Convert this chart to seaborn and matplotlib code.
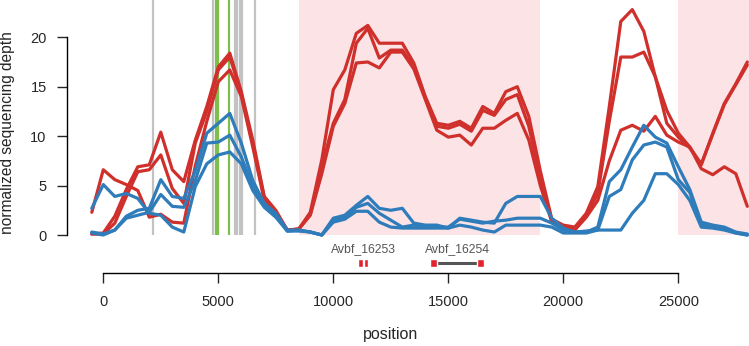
import matplotlib
matplotlib.use("Agg")
import matplotlib.pyplot as plt
import numpy as np
import pandas as pd
import seaborn as sns

# positions of the coverage windows (bp)
positions = list(range(-500, 28001, 500))

red_1 = [2.3, 6.6, 5.6, 5.1, 4.5, 1.8, 2.1, 1.3, 1.2, 7.0, 11.5, 15.5, 16.7, 14.0, 8.9, 3.5, 2.0, 0.5, 0.6,
         2.0, 6.2, 11.0, 13.3, 17.4, 17.5, 16.9, 18.5, 18.5, 16.8, 13.7, 10.6, 9.9, 10.1, 9.1, 10.8, 10.8,
         11.6, 12.3, 9.6, 5.0, 1.3, 0.7, 0.5, 1.8, 3.5, 7.5, 10.6, 11.1, 10.5, 12.0, 10.1, 9.4, 8.9, 6.7,
         6.1, 6.9, 6.2, 2.9]
red_2 = [0.1, 0.2, 1.9, 4.6, 6.9, 7.1, 10.4, 6.6, 5.4, 9.6, 13.0, 17.0, 18.4, 14.5, 9.6, 3.9, 2.5, 0.5, 0.6,
         2.3, 7.6, 14.7, 16.7, 20.4, 21.2, 19.4, 19.4, 19.4, 17.4, 14.0, 11.3, 11.1, 11.5, 10.8, 13.0, 12.3,
         14.5, 15.0, 12.0, 6.5, 1.6, 1.0, 0.8, 2.2, 4.9, 13.0, 21.6, 22.8, 20.6, 16.0, 12.6, 10.3, 8.9, 7.1,
         10.3, 13.3, 15.3, 17.5]
red_3 = [0.1, 0.1, 1.2, 3.9, 6.4, 6.6, 8.1, 4.7, 3.2, 9.3, 12.5, 16.7, 18.0, 14.3, 9.2, 3.7, 2.2, 0.5, 0.6,
         2.1, 6.9, 11.3, 13.7, 19.4, 20.9, 17.9, 18.7, 18.7, 17.0, 13.9, 11.0, 10.8, 11.2, 10.5, 12.6, 12.1,
         13.7, 14.2, 11.0, 5.8, 1.5, 0.8, 0.6, 2.0, 4.2, 11.5, 18.0, 18.0, 18.5, 16.0, 11.3, 9.9, 8.8, 7.2,
         10.2, 13.2, 15.2, 17.2]
blue_1 = [2.7, 5.1, 3.9, 4.2, 3.7, 2.2, 2.0, 0.8, 0.3, 4.9, 7.2, 8.1, 8.4, 7.2, 4.5, 2.8, 1.8, 0.4, 0.4,
          0.3, 0.0, 1.3, 1.6, 2.4, 2.4, 1.3, 0.8, 0.7, 0.7, 0.7, 0.7, 0.7, 1.0, 0.8, 0.5, 0.3,
          1.0, 1.0, 1.0, 1.0, 0.8, 0.2, 0.2, 0.2, 0.5, 0.5, 0.5, 2.2, 3.5, 6.2, 6.2, 5.1, 3.5, 0.8,
          0.7, 0.5, 0.2, 0.0]
blue_2 = [0.2, 0.0, 0.5, 1.9, 2.5, 2.7, 5.6, 3.9, 3.7, 6.5, 10.3, 11.3, 12.3, 9.3, 5.5, 3.2, 2.2, 0.5, 0.5,
          0.3, 0.0, 1.7, 2.0, 3.0, 3.9, 2.7, 2.5, 2.7, 1.2, 1.0, 1.0, 0.7, 1.7, 1.5, 1.3, 1.2,
          3.2, 3.9, 3.9, 3.9, 1.7, 0.7, 0.3, 0.3, 0.8, 5.4, 6.6, 8.9, 11.1, 9.9, 9.3, 6.9, 4.6, 1.3,
          1.0, 0.8, 0.3, 0.1]
blue_3 = [0.3, 0.1, 0.5, 1.7, 2.0, 2.3, 4.1, 2.9, 2.8, 5.5, 9.3, 9.4, 10.1, 7.9, 5.0, 3.0, 2.0, 0.4, 0.5,
          0.3, 0.0, 1.5, 1.8, 2.8, 3.2, 2.2, 1.5, 0.8, 1.0, 0.8, 0.8, 0.8, 1.6, 1.4, 1.2, 1.4,
          1.5, 1.7, 1.7, 1.7, 1.2, 0.5, 0.3, 0.4, 0.5, 3.9, 4.6, 7.6, 9.1, 9.4, 8.9, 5.6, 4.3, 1.0,
          0.8, 0.6, 0.2, 0.0]

# highlighted regions, variant sites and genes
region_start = [8500, 25000]
region_end = [19000, 28600]
gray_sites = [2140, 4780, 5730, 5830, 5940, 6010, 6600]
green_sites = [4890, 4990, 5480]
gene_names = ["Avbf_16253", "Avbf_16254"]
gene_start = [11090, 14200]
gene_end = [11520, 16560]
x_ticks = [0, 5000, 10000, 15000, 20000, 25000]
y_ticks = [0, 5, 10, 15, 20]

RED = "#d0302c"
BLUE = "#2f7cbb"

series = {"red_1": red_1, "red_2": red_2, "red_3": red_3,
          "blue_1": blue_1, "blue_2": blue_2, "blue_3": blue_3}
df = pd.concat([pd.DataFrame({"position": positions, "depth": v, "sample": k})
                for k, v in series.items()], ignore_index=True)
palette = {k: (RED if k.startswith("red") else BLUE) for k in series}

sns.set_style("white")
plt.rcParams["font.family"] = ["Liberation Sans", "DejaVu Sans"]

W, H = 749, 346
fig = plt.figure(figsize=(W / 100, H / 100), dpi=100)
left = 66.7
ax = fig.add_axes([left / W, 1 - 242 / H, (W - left) / W, 242 / H])
gax = fig.add_axes([left / W, 1 - 273.3 / H, (W - left) / W, 31.3 / H], sharex=ax)

ytop = 23.77
xlim = (-1591, 28074)

for s, e in zip(region_start, region_end):
    ax.fill_betweenx([0, ytop], s, e, color="#fbe3e6", lw=0, zorder=0)
ax.vlines(gray_sites, 0, ytop, color="#c2c2c2", lw=1.6, zorder=1)
ax.vlines(green_sites, 0, ytop, color="#7dbf4a", lw=1.6, zorder=1)

sns.lineplot(data=df, x="position", y="depth", hue="sample", palette=palette,
             estimator=None, sort=False, legend=False, lw=2.3, ax=ax, zorder=3)

ax.set_xlim(*xlim)
ax.set_ylim(-0.708, ytop)
for sp in ["top", "right", "bottom"]:
    ax.spines[sp].set_visible(False)
ax.spines["left"].set_bounds(0, 20)
ax.spines["left"].set_linewidth(1.0)
ax.spines["left"].set_color("black")
ax.set_yticks(y_ticks)
ax.tick_params(axis="y", length=7, width=1.0, pad=7.4, labelsize=10.5, direction="out", left=True)
ax.tick_params(axis="x", bottom=False, labelbottom=False)
ax.set_xlabel("")
ax.set_ylabel("")

# gene track with the position axis
gy = 0.33
for name, s, e in zip(gene_names, gene_start, gene_end):
    w = min(300, 0.47 * (e - s))
    gax.hlines(gy, s, e, color="#555555", lw=2.2, zorder=1)
    gax.barh(gy, w, left=s, height=0.27, color="#e3232b", zorder=2)
    gax.barh(gy, w, left=e - w, height=0.27, color="#e3232b", zorder=2)
    gax.text((s + e) / 2, 0.76, name, ha="center", va="center", fontsize=8.8, color="#555555")
gax.set_ylim(0, 1)
gax.set_yticks([])
for sp in ["top", "right", "left"]:
    gax.spines[sp].set_visible(False)
gax.spines["bottom"].set_bounds(0, 25000)
gax.spines["bottom"].set_linewidth(1.0)
gax.spines["bottom"].set_color("black")
gax.set_xticks(x_ticks)
gax.set_xticklabels([str(t) for t in x_ticks])
gax.tick_params(axis="x", length=7, width=1.0, pad=8.5, labelsize=10.5, direction="out", bottom=True)
gax.set_xlim(*xlim)
gax.patch.set_alpha(0)

fig.text(7.5 / W, 1 - 132.5 / H, "normalized sequencing depth", rotation=90,
         ha="center", va="center", fontsize=11.2)
fig.text(391 / W, 1 - 334.5 / H, "position", ha="center", va="center", fontsize=11.5)

fig.savefig("out.png", dpi=100)
